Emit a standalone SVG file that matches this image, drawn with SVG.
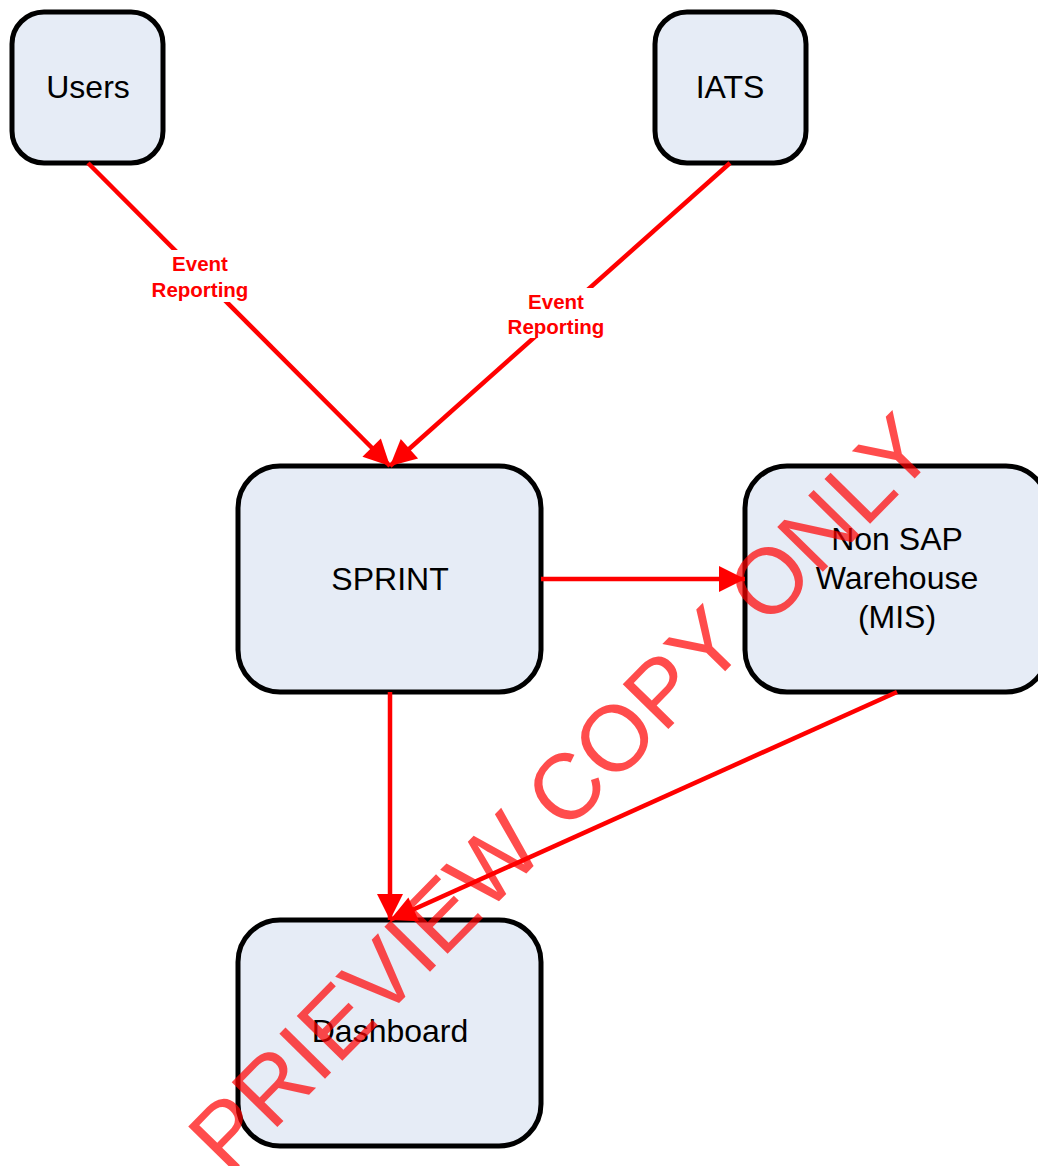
<svg xmlns="http://www.w3.org/2000/svg" width="1038" height="1166" viewBox="0 0 1038 1166">
<style>
.node rect{fill:#e6ecf6;stroke:#000;stroke-width:5}
.node text{font-family:"Liberation Sans",Arial,sans-serif;font-size:32px;fill:#000;text-anchor:middle}
.conn line{stroke:#ff0000;stroke-width:4.5}
.lbl{font-family:"Liberation Sans",Arial,sans-serif;font-size:20.5px;font-weight:bold;fill:#ff0000;text-anchor:middle}
.wm{font-family:"Liberation Sans",Arial,sans-serif;font-size:93px;fill:#ff0000;fill-opacity:0.7;text-anchor:middle}
</style>
<defs>
<marker id="ah" viewBox="0 0 10 10" refX="10" refY="5" markerUnits="userSpaceOnUse" markerWidth="34" markerHeight="26" orient="auto">
<path d="M0,0 L10,5 L0,10 z" fill="#ff0000"/>
</marker>
</defs>
<rect width="1038" height="1166" fill="#fff"/>
<g id="users" class="node"><rect x="12" y="12" width="151" height="151" rx="32"/><text x="88" y="98">Users</text></g>
<g id="iats" class="node"><rect x="655" y="12" width="151" height="151" rx="32"/><text x="730" y="98">IATS</text></g>
<g id="sprint" class="node"><rect x="238" y="466" width="303" height="226" rx="42"/><text x="390" y="590">SPRINT</text></g>
<g id="nonsap" class="node"><rect x="745" y="466" width="303" height="226" rx="42"/><text x="897" y="550">Non SAP</text><text x="897" y="589">Warehouse</text><text x="897" y="628">(MIS)</text></g>
<g id="dashboard" class="node"><rect x="238" y="920" width="303" height="226" rx="42"/><text x="390" y="1042">Dashboard</text></g>
<g id="connectors" class="conn">
<line x1="88" y1="163" x2="390" y2="466" marker-end="url(#ah)"/>
<line x1="730" y1="163" x2="390" y2="466" marker-end="url(#ah)"/>
<line x1="541" y1="579" x2="745" y2="579" marker-end="url(#ah)"/>
<line x1="390" y1="692" x2="390" y2="920" marker-end="url(#ah)"/>
<line x1="897" y1="692" x2="390" y2="920" marker-end="url(#ah)"/>
<rect x="148" y="250" width="106" height="52" fill="#fff" stroke="none"/>
<text class="lbl" x="200" y="271">Event</text><text class="lbl" x="200" y="297">Reporting</text>
<rect x="503" y="288" width="106" height="50" fill="#fff" stroke="none"/>
<text class="lbl" x="556" y="309">Event</text><text class="lbl" x="556" y="334">Reporting</text>
</g>
<text class="wm" transform="translate(584,815) rotate(-45.5)" x="0" y="0">PRIEVIEW COPY ONLY</text>
</svg>
